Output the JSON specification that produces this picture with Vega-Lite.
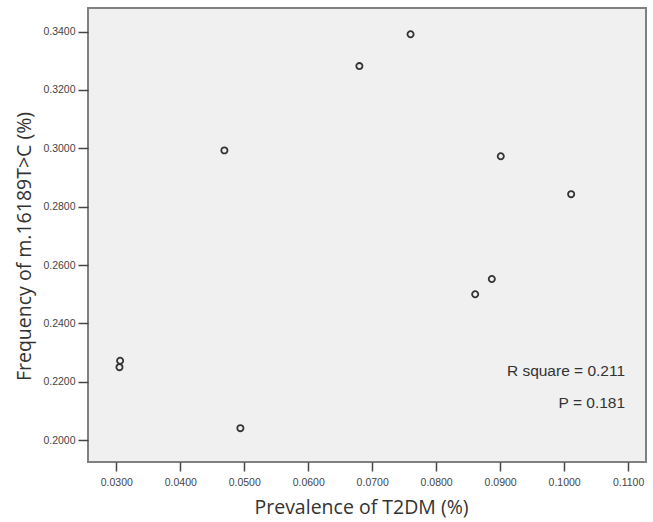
{
  "$schema": "https://vega.github.io/schema/vega-lite/v6.json",
  "width": 558,
  "height": 454,
  "autosize": {"type": "none"},
  "padding": {"left": 88, "top": 8, "right": 7, "bottom": 60},
  "background": "white",
  "config": {
    "view": {"fill": "#f0f0f0", "stroke": "#808080", "strokeWidth": 2},
    "axis": {
      "domain": false,
      "grid": false,
      "tickColor": "#444444",
      "tickWidth": 1.5,
      "labelColor": "#444444",
      "labelFont": "Liberation Sans",
      "labelFontSize": 10.5,
      "titleFont": "Open Sans",
      "titleFontSize": 19.5,
      "titleFontWeight": "normal",
      "titleColor": "#333333"
    }
  },
  "data": {
    "values": [
      {"prevalence": 0.0306, "frequency": 0.2272},
      {"prevalence": 0.0305, "frequency": 0.2250},
      {"prevalence": 0.0494, "frequency": 0.2041},
      {"prevalence": 0.0469, "frequency": 0.2993},
      {"prevalence": 0.0680, "frequency": 0.3282},
      {"prevalence": 0.0760, "frequency": 0.3391},
      {"prevalence": 0.0861, "frequency": 0.2500},
      {"prevalence": 0.0887, "frequency": 0.2552},
      {"prevalence": 0.0901, "frequency": 0.2973},
      {"prevalence": 0.1011, "frequency": 0.2843}
    ]
  },
  "layer": [
    {
      "mark": {"type": "point", "shape": "circle", "filled": false, "stroke": "#333333", "strokeWidth": 1.8, "size": 38, "opacity": 1},
      "encoding": {
        "x": {
          "field": "prevalence",
          "type": "quantitative",
          "scale": {"domain": [0.02558, 0.1128], "nice": false, "zero": false},
          "axis": {
            "title": "Prevalence of T2DM (%)",
            "values": [0.03, 0.04, 0.05, 0.06, 0.07, 0.08, 0.09, 0.10, 0.11],
            "format": ".4f",
            "tickSize": 9,
            "labelPadding": 6,
            "titlePadding": 11,
            "titleX": 273
          }
        },
        "y": {
          "field": "frequency",
          "type": "quantitative",
          "scale": {"domain": [0.1925, 0.3481], "nice": false, "zero": false},
          "axis": {
            "title": "Frequency of m.16189T>C (%)",
            "values": [0.20, 0.22, 0.24, 0.26, 0.28, 0.30, 0.32, 0.34],
            "format": ".4f",
            "tickSize": 10,
            "labelPadding": 3,
            "titlePadding": 8,
            "titleY": 238
          }
        }
      }
    },
    {
      "data": {"values": [
        {"label": "R square = 0.211", "lx": 0.10953, "ly": 0.2237},
        {"label": "P = 0.181", "lx": 0.10953, "ly": 0.2128}
      ]},
      "mark": {"type": "text", "align": "right", "baseline": "middle", "font": "Liberation Sans", "fontSize": 15.5, "color": "#333333"},
      "encoding": {
        "x": {"field": "lx", "type": "quantitative"},
        "y": {"field": "ly", "type": "quantitative"},
        "text": {"field": "label"}
      }
    }
  ]
}
